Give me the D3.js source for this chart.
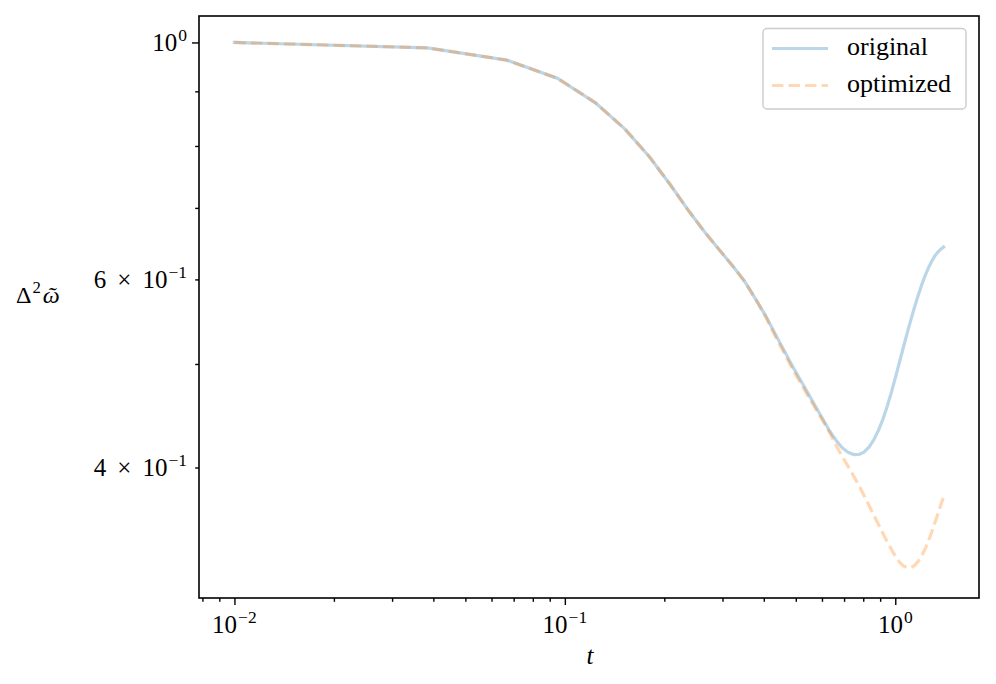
<!DOCTYPE html>
<html>
<head>
<meta charset="utf-8">
<script src="https://cdn.jsdelivr.net/npm/d3@7"></script>
<style>
  html, body { margin: 0; padding: 0; background: #fff; }
  svg { display: block; }
  text { font-family: "Liberation Serif", "DejaVu Serif", serif; fill: #000; }
</style>
</head>
<body>
<svg id="chart" width="996" height="684"></svg>
<script>
// ---- data ----
const tValues = [0.01, 0.03837, 0.06673, 0.0951, 0.12347, 0.15184, 0.1802, 0.20857, 0.23694, 0.26531,
  0.29367, 0.32204, 0.35041, 0.37878, 0.40714, 0.43551, 0.46388, 0.49224, 0.52061, 0.54898,
  0.57735, 0.60571, 0.63408, 0.66245, 0.69082, 0.71918, 0.74755, 0.77592, 0.80429, 0.83265,
  0.86102, 0.88939, 0.91776, 0.94612, 0.97449, 1.00286, 1.03122, 1.05959, 1.08796, 1.11633,
  1.14469, 1.17306, 1.20143, 1.2298, 1.25816, 1.28653, 1.3149, 1.34327, 1.37163, 1.4];

const originalValues = [1.0, 0.9884, 0.9626, 0.9255, 0.8785, 0.8301, 0.7816, 0.7358, 0.6956, 0.6641,
  0.6393, 0.6177, 0.5972, 0.5744, 0.5534, 0.5318, 0.5129, 0.4955, 0.4810, 0.4673,
  0.4548, 0.4431, 0.4323, 0.4240, 0.4174, 0.4134, 0.4113, 0.4114, 0.4135, 0.4180,
  0.4246, 0.4333, 0.4440, 0.4568, 0.4710, 0.4865, 0.5027, 0.5192, 0.5353, 0.5508,
  0.5657, 0.5797, 0.5926, 0.6044, 0.6145, 0.6233, 0.6306, 0.6360, 0.6402, 0.6433];

const optimizedValues = [1.0, 0.9884, 0.9626, 0.9255, 0.8785, 0.8301, 0.7816, 0.7358, 0.6956, 0.6641,
  0.6393, 0.6177, 0.5972, 0.5744, 0.5520, 0.5290, 0.5100, 0.4925, 0.4780, 0.4645,
  0.4525, 0.4415, 0.4310, 0.4193, 0.4097, 0.4011, 0.3928, 0.3848, 0.3766, 0.3685,
  0.3610, 0.3538, 0.3470, 0.3408, 0.3350, 0.3300, 0.3260, 0.3234, 0.3223, 0.3224,
  0.3239, 0.3267, 0.3305, 0.3353, 0.3410, 0.3473, 0.3544, 0.3613, 0.3686, 0.3756];

const seriesNames = ["original", "optimized"];
const xMajorTicks = [0.01, 0.1, 1];
const xMajorLabels = [["10", "−2"], ["10", "−1"], ["10", "0"]];
const yMajorTicks = [1];
const yMajorLabels = [[null, "10", "0"]];
const yLabeledMinorTicks = [0.6, 0.4];
const yLabeledMinorLabels = [["6", "10", "−1"], ["4", "10", "−1"]];
const xDomain = [0.007812, 1.7923];
const yDomain = [0.3019, 1.0587];

// ---- layout ----
const M = { left: 199, right: 979, top: 16, bottom: 598 };
const svg = d3.select("#chart");

const x = d3.scaleLog().domain(xDomain).range([M.left, M.right]);
const y = d3.scaleLog().domain(yDomain).range([M.bottom, M.top]);

function minorTicks(scale) {
  const [a, b] = scale.domain();
  const out = [];
  for (let e = Math.floor(Math.log10(a)); e <= Math.ceil(Math.log10(b)); e++) {
    for (let m = 2; m <= 9; m++) {
      const v = m * Math.pow(10, e);
      if (v >= a && v <= b) out.push(v);
    }
  }
  return out;
}

// axes ticks
const gx = svg.append("g").attr("transform", `translate(0,${M.bottom})`);
gx.call(d3.axisBottom(x).tickValues(xMajorTicks).tickSize(7).tickFormat(""));
gx.append("g").call(d3.axisBottom(x).tickValues(minorTicks(x)).tickSize(3.8).tickFormat(""));
const gy = svg.append("g").attr("transform", `translate(${M.left},0)`);
gy.call(d3.axisLeft(y).tickValues(yMajorTicks).tickSize(7).tickFormat(""));
gy.append("g").call(d3.axisLeft(y).tickValues(minorTicks(y)).tickSize(3.8).tickFormat(""));
svg.selectAll(".domain").remove();
svg.selectAll(".tick line").attr("stroke", "#000").attr("stroke-width", 1.4);

// tick labels
const TICK_FS = 25;
xMajorTicks.forEach((v, i) => {
  const t = svg.append("text")
    .attr("x", x(v)).attr("y", 633)
    .attr("text-anchor", "middle")
    .style("font-size", TICK_FS + "px");
  t.append("tspan").text(xMajorLabels[i][0]);
  t.append("tspan").attr("dy", "-0.55em").attr("dx", 1).style("font-size", "70%").text(xMajorLabels[i][1]);
});
function yLabel(v, parts) {
  const t = svg.append("text")
    .attr("x", 187).attr("y", y(v) + 8.3)
    .attr("text-anchor", "end")
    .style("font-size", TICK_FS + "px");
  if (parts[0] !== null) {
    t.append("tspan").text(parts[0]);
    t.append("tspan").attr("dx", 11).text("×");
    t.append("tspan").attr("dx", 11).text(parts[1]);
  } else {
    t.append("tspan").text(parts[1]);
  }
  t.append("tspan").attr("dy", "-0.55em").attr("dx", 1).style("font-size", "70%").text(parts[2]);
}
yMajorTicks.forEach((v, i) => yLabel(v, yMajorLabels[i]));
yLabeledMinorTicks.forEach((v, i) => yLabel(v, yLabeledMinorLabels[i]));

// axis labels
svg.append("text").attr("x", 590).attr("y", 664).attr("text-anchor", "middle")
  .style("font-size", "25px").style("font-style", "italic").text("t");
const yl = svg.append("text").attr("x", 16).attr("y", 303).style("font-size", "24px");
yl.append("tspan").text("Δ");
yl.append("tspan").attr("dy", "-0.6em").attr("dx", 1).style("font-size", "70%").text("2");
yl.append("tspan").attr("dy", "0.42em").attr("dx", 2).style("font-style", "italic").text("ῶ");

// lines
svg.append("clipPath").attr("id", "clip").append("rect")
  .attr("x", M.left).attr("y", M.top).attr("width", M.right - M.left).attr("height", M.bottom - M.top);
const line = d3.line().x(d => x(d[0])).y(d => y(d[1]));
const origData = tValues.map((t, i) => [t, originalValues[i]]);
const optData = tValues.map((t, i) => [t, optimizedValues[i]]);
const plot = svg.append("g").attr("clip-path", "url(#clip)");
plot.append("path").datum(origData).attr("d", line)
  .attr("fill", "none").attr("stroke", "#1f77b4").attr("stroke-opacity", 0.3)
  .attr("stroke-width", 3.2).attr("stroke-linecap", "square").attr("stroke-linejoin", "round");
plot.append("path").datum(optData).attr("d", line)
  .attr("fill", "none").attr("stroke", "#ff7f0e").attr("stroke-opacity", 0.3)
  .attr("stroke-width", 3.2).attr("stroke-dasharray", "11.5,5").attr("stroke-linejoin", "round");

// frame
svg.append("rect").attr("x", M.left).attr("y", M.top)
  .attr("width", M.right - M.left).attr("height", M.bottom - M.top)
  .attr("fill", "none").attr("stroke", "#000").attr("stroke-width", 1.6);

// legend
const lg = svg.append("g");
lg.append("rect").attr("x", 763).attr("y", 28.5).attr("width", 203).attr("height", 80.5)
  .attr("rx", 4).attr("fill", "#fff").attr("fill-opacity", 0.8)
  .attr("stroke", "#cccccc").attr("stroke-width", 1.4);
const legColors = ["#1f77b4", "#ff7f0e"];
seriesNames.forEach((name, i) => {
  const cy = 48.5 + i * 37;
  const l = lg.append("line").attr("x1", 772).attr("x2", 828).attr("y1", cy).attr("y2", cy)
    .attr("stroke", legColors[i]).attr("stroke-opacity", 0.3).attr("stroke-width", 3.2);
  if (i === 1) l.attr("stroke-dasharray", "11.5,5");
  lg.append("text").attr("x", 847).attr("y", cy + 6.5).style("font-size", "26px").text(name);
});
</script>
</body>
</html>
